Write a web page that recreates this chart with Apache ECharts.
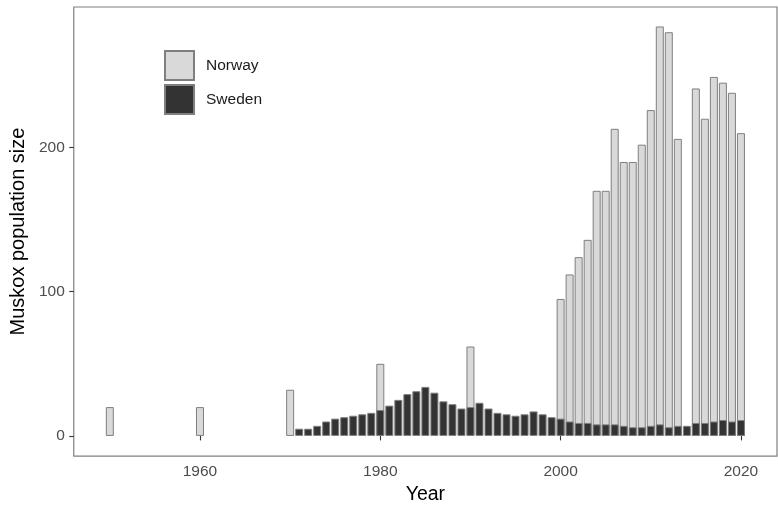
<!DOCTYPE html>
<html>
<head>
<meta charset="utf-8">
<script src="https://cdn.jsdelivr.net/npm/echarts@6/dist/echarts.min.js"></script>
<style>html,body{margin:0;padding:0;background:#fff}#c{width:778px;height:510px}</style>
</head>
<body>
<div id="c"></div>
<script>
const years = [1950, 1960, 1970,
  1971, 1972, 1973, 1974, 1975, 1976, 1977, 1978, 1979, 1980,
  1981, 1982, 1983, 1984, 1985, 1986, 1987, 1988, 1989, 1990,
  1991, 1992, 1993, 1994, 1995, 1996, 1997, 1998, 1999, 2000,
  2001, 2002, 2003, 2004, 2005, 2006, 2007, 2008, 2009, 2010,
  2011, 2012, 2013, 2014, 2015, 2016, 2017, 2018, 2019, 2020];
const sweden = [null, null, null,
  5, 5, 7, 10, 12, 13, 14, 15, 16, 18,
  21, 25, 29, 31, 34, 30, 24, 22, 19, 20,
  23, 19, 16, 15, 14, 15, 17, 15, 13, 12,
  10, 9, 9, 8, 8, 8, 7, 6, 6, 7,
  8, 6, 7, 7, 9, 9, 10, 11, 10, 11];
const norway = [20, 20, 32,
  null, null, null, null, null, null, null, null, null, 32,
  null, null, null, null, null, null, null, null, null, 42,
  null, null, null, null, null, null, null, null, null, 83,
  102, 115, 127, 162, 162, 205, 183, 184, 196, 219,
  276, 274, 199, null, 232, 211, 239, 234, 228, 199];
const xTicks = [1960, 1980, 2000, 2020];
const yTicks = [0, 100, 200];

const FONT = 'Liberation Sans, Arial, sans-serif';
const chart = echarts.init(document.getElementById('c'), null, {renderer: 'canvas'});
// Norway is stacked on top of Sweden: its bar spans from the Sweden value to the total.
const norwayTop = years.map((y, i) => [y, norway[i] == null ? null : norway[i] + (sweden[i] || 0)]);
const swedenData = years.map((y, i) => [y, sweden[i]]);
chart.setOption({
  animation: false,
  backgroundColor: '#ffffff',
  textStyle: {fontFamily: FONT},
  grid: {left: 73, right: 1, top: 7, bottom: 49, show: true, borderColor: '#7f7f7f', borderWidth: 1.2, containLabel: false},
  legend: {
    orient: 'vertical', left: 164, top: 50, padding: 0, itemWidth: 29, itemHeight: 29, itemGap: 3,
    icon: 'rect', data: ['Norway', 'Sweden'],
    textStyle: {fontFamily: FONT, fontSize: 15.5, color: '#1a1a1a', padding: [0, 0, 0, 7]}
  },
  xAxis: {
    type: 'value', min: 1946, max: 2024,
    name: 'Year', nameLocation: 'middle', nameGap: 28,
    nameTextStyle: {fontFamily: FONT, fontSize: 19.5, color: '#000'},
    axisLine: {show: false},
    splitLine: {show: false},
    axisTick: {show: true, length: 4.5, customValues: xTicks, lineStyle: {color: '#333', width: 1.1}},
    axisLabel: {customValues: xTicks, margin: 8, fontFamily: FONT, fontSize: 15.5, color: '#4d4d4d',
                formatter: (v) => String(v)}
  },
  yAxis: {
    type: 'value', min: -14, max: 297.5,
    name: 'Muskox population size', nameLocation: 'middle', nameGap: 42,
    nameTextStyle: {fontFamily: FONT, fontSize: 20, color: '#000'},
    axisLine: {show: false},
    splitLine: {show: false},
    axisTick: {show: true, length: 4.5, customValues: yTicks, lineStyle: {color: '#333', width: 1.1}},
    axisLabel: {customValues: yTicks, margin: 9, fontFamily: FONT, fontSize: 15.5, color: '#4d4d4d',
                formatter: (v) => String(v)}
  },
  series: [
    {name: 'Norway', type: 'bar', barWidth: 8, barGap: '-100%', data: norwayTop,
     itemStyle: {color: '#d9d9d9', borderColor: '#7f7f7f', borderWidth: 1}},
    {name: 'Sweden', type: 'bar', barWidth: 8, barGap: '-100%', data: swedenData,
     itemStyle: {color: '#333333', borderColor: '#7f7f7f', borderWidth: 1}}
  ]
});
</script>
</body>
</html>
